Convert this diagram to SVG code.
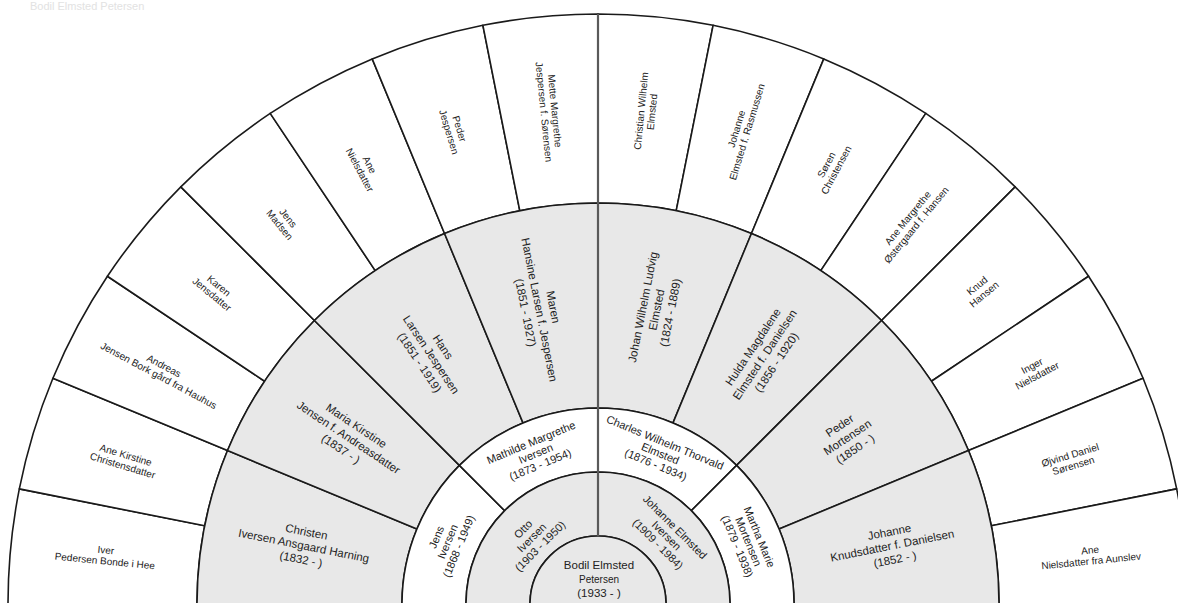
<svg xmlns="http://www.w3.org/2000/svg" width="1178" height="603" viewBox="0 0 1178 603">
<style>
.s{stroke:#1a1a1a;stroke-width:1.6;stroke-linejoin:round}
.w{fill:#ffffff}
.g{fill:#e8e8e8}
text{font-family:"Liberation Sans",Arial,sans-serif;fill:#222222;text-anchor:middle}
.t5{font-size:10px}
.t4{font-size:11.5px}
.t3{font-size:11px}
.t2{font-size:11px}
.t1{font-size:11.5px}
.hd{font-size:11px;fill:#e2e2e2;text-anchor:start}
</style>
<rect width="1178" height="603" fill="#ffffff"/>
<text class="hd" x="30" y="10">Bodil Elmsted Petersen</text>

<!-- Outer ring: 16 great-great-grandparents -->
<g id="n16"><path class="s w" d="M8,604 A590,590 0 0 1 19.33,488.90 L204.70,525.77 A401,401 0 0 0 197,604 Z"/>
<text class="t5" transform="translate(105.4 555.5) rotate(5.625)"><tspan x="0" dy="-2">Iver</tspan><tspan x="0" dy="11">Pedersen Bonde i Hee</tspan></text></g>
<g id="n17"><path class="s w" d="M19.33,488.90 A590,590 0 0 1 52.91,378.22 L227.52,450.55 A401,401 0 0 0 204.70,525.77 Z"/>
<text class="t5" transform="translate(124.3 460.3) rotate(16.875)"><tspan x="0" dy="-2">Ane Kirstine</tspan><tspan x="0" dy="11">Christensdatter</tspan></text></g>
<g id="n18"><path class="s w" d="M52.91,378.22 A590,590 0 0 1 107.43,276.21 L264.58,381.22 A401,401 0 0 0 227.52,450.55 Z"/>
<text class="t5" transform="translate(161.4 370.7) rotate(28.125)"><tspan x="0" dy="-2">Andreas</tspan><tspan x="0" dy="11">Jensen Bork gård fra Hauhus</tspan></text></g>
<g id="n19"><path class="s w" d="M107.43,276.21 A590,590 0 0 1 180.81,186.81 L314.45,320.45 A401,401 0 0 0 264.58,381.22 Z"/>
<text class="t5" transform="translate(215.4 290.0) rotate(39.375)"><tspan x="0" dy="-2">Karen</tspan><tspan x="0" dy="11">Jensdatter</tspan></text></g>
<g id="n20"><path class="s w" d="M180.81,186.81 A590,590 0 0 1 270.21,113.43 L375.22,270.58 A401,401 0 0 0 314.45,320.45 Z"/>
<text class="t5" transform="translate(284.0 221.4) rotate(50.625)"><tspan x="0" dy="-2">Jens</tspan><tspan x="0" dy="11">Madsen</tspan></text></g>
<g id="n21"><path class="s w" d="M270.21,113.43 A590,590 0 0 1 372.22,58.91 L444.55,233.52 A401,401 0 0 0 375.22,270.58 Z"/>
<text class="t5" transform="translate(364.7 167.4) rotate(61.875)"><tspan x="0" dy="-2">Ane</tspan><tspan x="0" dy="11">Nielsdatter</tspan></text></g>
<g id="n22"><path class="s w" d="M372.22,58.91 A590,590 0 0 1 482.90,25.33 L519.77,210.70 A401,401 0 0 0 444.55,233.52 Z"/>
<text class="t5" transform="translate(454.3 130.3) rotate(73.125)"><tspan x="0" dy="-2">Peder</tspan><tspan x="0" dy="11">Jespersen</tspan></text></g>
<g id="n23"><path class="s w" d="M482.90,25.33 A590,590 0 0 1 598,14 L598,203 A401,401 0 0 0 519.77,210.70 Z"/>
<text class="t5" transform="translate(549.5 111.4) rotate(84.375)"><tspan x="0" dy="-2">Mette Margrethe</tspan><tspan x="0" dy="11">Jespersen f. Sørensen</tspan></text></g>
<g id="n24"><path class="s w" d="M598,14 A590,590 0 0 1 713.10,25.33 L676.23,210.70 A401,401 0 0 0 598,203 Z"/>
<text class="t5" transform="translate(646.5 111.4) rotate(-84.375)"><tspan x="0" dy="-2">Christian Wilhelm</tspan><tspan x="0" dy="11">Elmsted</tspan></text></g>
<g id="n25"><path class="s w" d="M713.10,25.33 A590,590 0 0 1 823.78,58.91 L751.45,233.52 A401,401 0 0 0 676.23,210.70 Z"/>
<text class="t5" transform="translate(741.7 130.3) rotate(-73.125)"><tspan x="0" dy="-2">Johanne</tspan><tspan x="0" dy="11">Elmsted f. Rasmussen</tspan></text></g>
<g id="n26"><path class="s w" d="M823.78,58.91 A590,590 0 0 1 925.79,113.43 L820.78,270.58 A401,401 0 0 0 751.45,233.52 Z"/>
<text class="t5" transform="translate(831.3 167.4) rotate(-61.875)"><tspan x="0" dy="-2">Søren</tspan><tspan x="0" dy="11">Christensen</tspan></text></g>
<g id="n27"><path class="s w" d="M925.79,113.43 A590,590 0 0 1 1015.19,186.81 L881.55,320.45 A401,401 0 0 0 820.78,270.58 Z"/>
<text class="t5" transform="translate(912.0 221.4) rotate(-50.625)"><tspan x="0" dy="-2">Ane Margrethe</tspan><tspan x="0" dy="11">Østergaard f. Hansen</tspan></text></g>
<g id="n28"><path class="s w" d="M1015.19,186.81 A590,590 0 0 1 1088.57,276.21 L931.42,381.22 A401,401 0 0 0 881.55,320.45 Z"/>
<text class="t5" transform="translate(980.6 290.0) rotate(-39.375)"><tspan x="0" dy="-2">Knud</tspan><tspan x="0" dy="11">Hansen</tspan></text></g>
<g id="n29"><path class="s w" d="M1088.57,276.21 A590,590 0 0 1 1143.09,378.22 L968.48,450.55 A401,401 0 0 0 931.42,381.22 Z"/>
<text class="t5" transform="translate(1034.6 370.7) rotate(-28.125)"><tspan x="0" dy="-2">Inger</tspan><tspan x="0" dy="11">Nielsdatter</tspan></text></g>
<g id="n30"><path class="s w" d="M1143.09,378.22 A590,590 0 0 1 1176.67,488.90 L991.30,525.77 A401,401 0 0 0 968.48,450.55 Z"/>
<text class="t5" transform="translate(1071.7 460.3) rotate(-16.875)"><tspan x="0" dy="-2">Øjvind Daniel</tspan><tspan x="0" dy="11">Sørensen</tspan></text></g>
<g id="n31"><path class="s w" d="M1176.67,488.90 A590,590 0 0 1 1188,604 L999,604 A401,401 0 0 0 991.30,525.77 Z"/>
<text class="t5" transform="translate(1090.6 555.5) rotate(-5.625)"><tspan x="0" dy="-2">Ane</tspan><tspan x="0" dy="11">Nielsdatter fra Aunslev</tspan></text></g>

<!-- Ring 4: 8 great-grandparents -->
<g id="n8"><path class="s g" d="M197,604 A401,401 0 0 1 227.52,450.55 L416.92,528.99 A196,196 0 0 0 402,604 Z"/>
<text class="t4" transform="translate(303.8 545.5) rotate(11.25)"><tspan x="0" dy="-10">Christen</tspan><tspan x="0" dy="14">Iversen Ansgaard Harning</tspan><tspan x="0" dy="14">(1832 - )</tspan></text></g>
<g id="n9"><path class="s g" d="M227.52,450.55 A401,401 0 0 1 314.45,320.45 L459.41,465.41 A196,196 0 0 0 416.92,528.99 Z"/>
<text class="t4" transform="translate(348.6 437.3) rotate(33.75)"><tspan x="0" dy="-10">Maria Kirstine</tspan><tspan x="0" dy="14">Jensen f. Andreasdatter</tspan><tspan x="0" dy="14">(1837 - )</tspan></text></g>
<g id="n10"><path class="s g" d="M314.45,320.45 A401,401 0 0 1 444.55,233.52 L522.99,422.92 A196,196 0 0 0 459.41,465.41 Z"/>
<text class="t4" transform="translate(431.3 354.6) rotate(56.25)"><tspan x="0" dy="-10">Hans</tspan><tspan x="0" dy="14">Larsen Jespersen</tspan><tspan x="0" dy="14">(1851 - 1919)</tspan></text></g>
<g id="n11"><path class="s g" d="M444.55,233.52 A401,401 0 0 1 598,203 L598,408 A196,196 0 0 0 522.99,422.92 Z"/>
<text class="t4" transform="translate(539.5 309.8) rotate(78.75)"><tspan x="0" dy="-10">Maren</tspan><tspan x="0" dy="14">Hansine Larsen f. Jespersen</tspan><tspan x="0" dy="14">(1851 - 1927)</tspan></text></g>
<g id="n12"><path class="s g" d="M598,203 A401,401 0 0 1 751.45,233.52 L673.01,422.92 A196,196 0 0 0 598,408 Z"/>
<text class="t4" transform="translate(656.5 309.8) rotate(-78.75)"><tspan x="0" dy="-10">Johan Wilhelm Ludvig</tspan><tspan x="0" dy="14">Elmsted</tspan><tspan x="0" dy="14">(1824 - 1889)</tspan></text></g>
<g id="n13"><path class="s g" d="M751.45,233.52 A401,401 0 0 1 881.55,320.45 L736.59,465.41 A196,196 0 0 0 673.01,422.92 Z"/>
<text class="t4" transform="translate(764.7 354.6) rotate(-56.25)"><tspan x="0" dy="-10">Hulda Magdalene</tspan><tspan x="0" dy="14">Elmsted f. Danielsen</tspan><tspan x="0" dy="14">(1856 - 1920)</tspan></text></g>
<g id="n14"><path class="s g" d="M881.55,320.45 A401,401 0 0 1 968.48,450.55 L779.08,528.99 A196,196 0 0 0 736.59,465.41 Z"/>
<text class="t4" transform="translate(847.4 437.3) rotate(-33.75)"><tspan x="0" dy="-10">Peder</tspan><tspan x="0" dy="14">Mortensen</tspan><tspan x="0" dy="14">(1850 - )</tspan></text></g>
<g id="n15"><path class="s g" d="M968.48,450.55 A401,401 0 0 1 999,604 L794,604 A196,196 0 0 0 779.08,528.99 Z"/>
<text class="t4" transform="translate(892.2 545.5) rotate(-11.25)"><tspan x="0" dy="-10">Johanne</tspan><tspan x="0" dy="14">Knudsdatter f. Danielsen</tspan><tspan x="0" dy="14">(1852 - )</tspan></text></g>

<!-- Ring 3: grandparents -->
<g id="n4"><path class="s w" d="M402,604 A196,196 0 0 1 459.41,465.41 L504.66,510.66 A132,132 0 0 0 466,604 Z"/>
<text class="t3" transform="translate(447.4 541.6) rotate(-67.5)"><tspan x="0" dy="-8">Jens</tspan><tspan x="0" dy="12">Iversen</tspan><tspan x="0" dy="12">(1868 - 1949)</tspan></text></g>
<g id="n5"><path class="s w" d="M459.41,465.41 A196,196 0 0 1 598,408 L598,472 A132,132 0 0 0 504.66,510.66 Z"/>
<text class="t3" transform="translate(535.6 453.4) rotate(-22.5)"><tspan x="0" dy="-8">Mathilde Margrethe</tspan><tspan x="0" dy="12">Iversen</tspan><tspan x="0" dy="12">(1873 - 1954)</tspan></text></g>
<g id="n6"><path class="s w" d="M598,408 A196,196 0 0 1 736.59,465.41 L691.34,510.66 A132,132 0 0 0 598,472 Z"/>
<text class="t3" transform="translate(660.4 453.4) rotate(22.5)"><tspan x="0" dy="-8">Charles Wilhelm Thorvald</tspan><tspan x="0" dy="12">Elmsted</tspan><tspan x="0" dy="12">(1876 - 1934)</tspan></text></g>
<g id="n7"><path class="s w" d="M736.59,465.41 A196,196 0 0 1 794,604 L730,604 A132,132 0 0 0 691.34,510.66 Z"/>
<text class="t3" transform="translate(748.6 541.6) rotate(67.5)"><tspan x="0" dy="-8">Martha Marie</tspan><tspan x="0" dy="12">Mortensen</tspan><tspan x="0" dy="12">(1879 - 1938)</tspan></text></g>

<!-- Ring 2: parents -->
<g id="n2"><path class="s g" d="M466,604 A132,132 0 0 1 598,472 L598,536 A68,68 0 0 0 530,604 Z"/>
<text class="t2" transform="translate(531.5 537.5) rotate(-45)"><tspan x="0" dy="-8">Otto</tspan><tspan x="0" dy="12">Iversen</tspan><tspan x="0" dy="12">(1903 - 1950)</tspan></text></g>
<g id="n3"><path class="s g" d="M598,472 A132,132 0 0 1 730,604 L666,604 A68,68 0 0 0 598,536 Z"/>
<text class="t2" transform="translate(666.6 535.4) rotate(45)"><tspan x="0" dy="-8">Johanne Elmsted</tspan><tspan x="0" dy="12">Iversen</tspan><tspan x="0" dy="12">(1909 - 1984)</tspan></text></g>

<!-- Center: root person -->
<g id="n1"><path class="s g" d="M530,604 A68,68 0 0 1 666,604 Z"/>
<text class="t1" x="599" y="569">Bodil Elmsted</text>
<text class="t1" x="599" y="583" style="font-size:10px">Petersen</text>
<text class="t1" x="599" y="597">(1933 - )</text></g>

<g id="connectors">
<line x1="598" y1="536" x2="598" y2="14" stroke="#5a5a5a" stroke-width="2.2"/>
</g>
</svg>
